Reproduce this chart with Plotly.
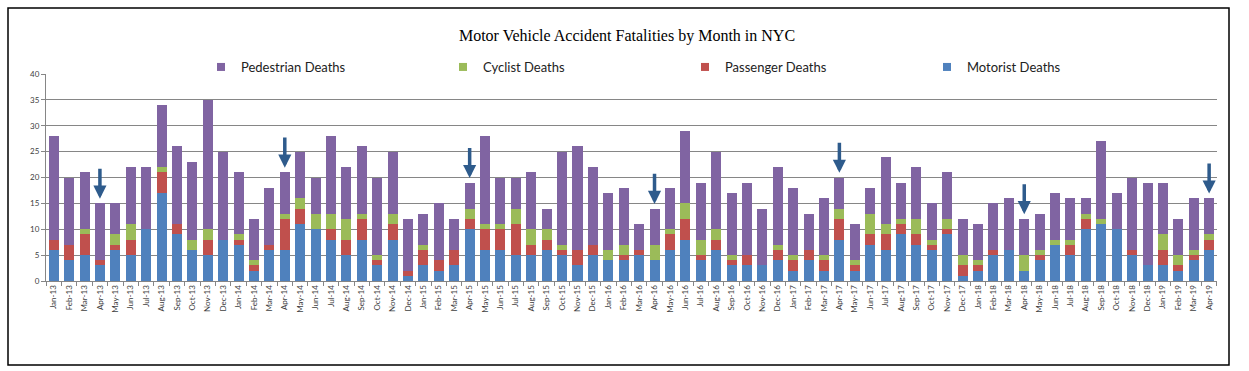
import plotly.graph_objects as go

months = [
    "Jan-13", "Feb-13", "Mar-13", "Apr-13", "May-13", "Jun-13", "Jul-13", "Aug-13", "Sep-13", "Oct-13", "Nov-13", "Dec-13",
    "Jan-14", "Feb-14", "Mar-14", "Apr-14", "May-14", "Jun-14", "Jul-14", "Aug-14", "Sep-14", "Oct-14", "Nov-14", "Dec-14",
    "Jan-15", "Feb-15", "Mar-15", "Apr-15", "May-15", "Jun-15", "Jul-15", "Aug-15", "Sep-15", "Oct-15", "Nov-15", "Dec-15",
    "Jan-16", "Feb-16", "Mar-16", "Apr-16", "May-16", "Jun-16", "Jul-16", "Aug-16", "Sep-16", "Oct-16", "Nov-16", "Dec-16",
    "Jan-17", "Feb-17", "Mar-17", "Apr-17", "May-17", "Jun-17", "Jul-17", "Aug-17", "Sep-17", "Oct-17", "Nov-17", "Dec-17",
    "Jan-18", "Feb-18", "Mar-18", "Apr-18", "May-18", "Jun-18", "Jul-18", "Aug-18", "Sep-18", "Oct-18", "Nov-18", "Dec-18",
    "Jan-19", "Feb-19", "Mar-19", "Apr-19",
]

motorist = [
    6, 4, 5, 3, 6, 5, 10, 17, 9, 6, 5, 8,
    7, 2, 6, 6, 11, 10, 8, 5, 8, 3, 8, 1,
    3, 2, 3, 10, 6, 6, 5, 5, 6, 5, 3, 5,
    4, 4, 5, 4, 6, 8, 4, 6, 3, 3, 3, 4,
    2, 4, 2, 8, 2, 7, 6, 9, 7, 6, 9, 1,
    2, 5, 6, 2, 4, 7, 5, 10, 11, 10, 5, 3,
    3, 2, 4, 6,
]
passenger = [
    2, 3, 4, 1, 1, 3, 0, 4, 2, 0, 3, 0,
    1, 1, 1, 6, 3, 0, 2, 3, 4, 1, 3, 1,
    3, 2, 3, 2, 4, 4, 6, 2, 2, 1, 3, 2,
    0, 1, 1, 0, 3, 4, 1, 2, 1, 2, 0, 2,
    2, 2, 2, 4, 1, 2, 3, 2, 2, 1, 1, 2,
    1, 1, 0, 0, 1, 0, 2, 2, 0, 0, 1, 0,
    3, 1, 1, 2,
]
cyclist = [
    0, 0, 1, 0, 2, 3, 0, 1, 0, 2, 2, 0,
    1, 1, 0, 1, 2, 3, 3, 4, 1, 1, 2, 0,
    1, 0, 0, 2, 1, 1, 3, 3, 2, 1, 0, 0,
    2, 2, 0, 3, 1, 3, 3, 2, 1, 0, 0, 1,
    1, 0, 1, 2, 1, 4, 2, 1, 3, 1, 2, 2,
    1, 0, 0, 3, 1, 1, 1, 1, 1, 0, 0, 0,
    3, 2, 1, 1,
]
pedestrian = [
    20, 13, 11, 11, 6, 11, 12, 12, 15, 15, 25, 17,
    12, 8, 11, 8, 9, 7, 15, 10, 13, 15, 12, 10,
    6, 11, 6, 5, 17, 9, 6, 11, 4, 18, 20, 15,
    11, 11, 5, 7, 8, 14, 11, 15, 12, 14, 11, 15,
    13, 7, 11, 6, 7, 5, 13, 7, 10, 7, 9, 7,
    7, 9, 10, 7, 7, 9, 8, 3, 15, 7, 14, 16,
    10, 7, 10, 7,
]
arrow_months = ["Apr-13", "Apr-14", "Apr-15", "Apr-16", "Apr-17", "Apr-18", "Apr-19"]

y_ticks = [0, 5, 10, 15, 20, 25, 30, 35, 40]

W, H = 1249, 371
L, R, T, B = 46, 1217, 74, 281  # plot area in pixels

fig = go.Figure()
series = [
    ("Motorist Deaths", motorist, "#4F81BD"),
    ("Passenger Deaths", passenger, "#C0504D"),
    ("Cyclist Deaths", cyclist, "#9BBB59"),
    ("Pedestrian Deaths", pedestrian, "#8064A2"),
]
for name, vals, col in series:
    fig.add_trace(go.Bar(x=months, y=vals, name=name, legendgroup=name, showlegend=False,
                         marker=dict(color=col, line=dict(width=0))))
# legend entries with small square swatches
for name, vals, col in series:
    fig.add_trace(go.Scatter(x=[None], y=[None], mode="markers", name=name, legendgroup=name,
                             marker=dict(symbol="square", size=8, color=col), showlegend=True))

totals = [a + b + c + d for a, b, c, d in zip(motorist, passenger, cyclist, pedestrian)]
total_by_month = dict(zip(months, totals))

for m in arrow_months:
    t = total_by_month[m]
    fig.add_annotation(
        x=m, y=t + 0.9, ax=m, ay=t + 7.0, axref="x", ayref="y", xref="x", yref="y",
        showarrow=True, arrowhead=2, arrowsize=0.75, arrowwidth=3.5, arrowcolor="#2E5B8C",
        text="", standoff=0,
    )

def px_x(p):
    return (p - L) / (R - L)

def px_y(p):
    return (B - p) / (B - T)

fig.add_shape(type="rect", xref="paper", yref="paper",
              x0=px_x(8), x1=px_x(1229), y0=px_y(365), y1=px_y(8),
              line=dict(color="black", width=1.5), fillcolor="rgba(0,0,0,0)", layer="below")

fig.update_layout(
    width=W, height=H,
    margin=dict(l=L, r=W - R, t=T, b=H - B),
    barmode="stack",
    bargap=0.35,
    plot_bgcolor="white",
    paper_bgcolor="white",
    title=dict(text="Motor Vehicle Accident Fatalities by Month in NYC",
               font=dict(family="Liberation Serif", size=16, color="black"),
               x=627 / W, xanchor="center", y=1 - 35 / H, yanchor="middle"),
    legend=dict(orientation="h", traceorder="reversed",
                x=px_x(201), xanchor="left", y=px_y(67), yanchor="middle",
                font=dict(family="Lato", size=13, color="#222222"),
                entrywidth=197, entrywidthmode="pixels",
                bgcolor="rgba(0,0,0,0)"),
    showlegend=True,
)
fig.update_xaxes(
    type="category", categoryorder="array", categoryarray=months,
    tickangle=-90, tickfont=dict(family="Lato", size=8, color="#404040"),
    showline=True, linecolor="#868686", linewidth=1,
    ticks="outside", tickson="boundaries", ticklen=4, tickcolor="#868686",
    showgrid=False,
)
fig.update_yaxes(
    range=[0, 40], tickvals=y_ticks,
    tickfont=dict(family="Lato", size=8, color="#404040"),
    showline=True, linecolor="#868686", linewidth=1,
    ticks="outside", ticklen=4, tickcolor="#868686",
    showgrid=True, gridcolor="#868686", gridwidth=1,
    zeroline=False,
)

fig.write_html("out.html", config={"displayModeBar": False},
               post_script="document.body.style.margin='0';")
